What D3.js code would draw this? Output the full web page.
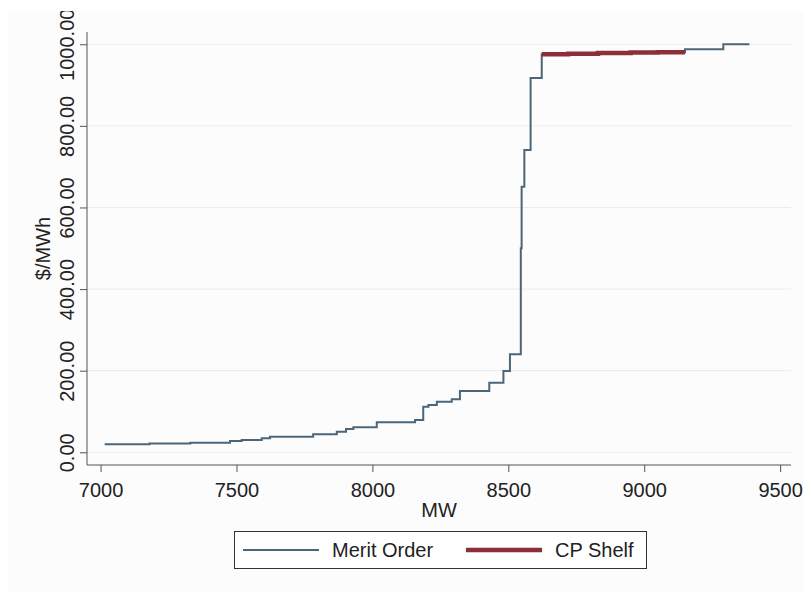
<!DOCTYPE html>
<html>
<head>
<meta charset="utf-8">
<script src="https://cdn.jsdelivr.net/npm/d3@7"></script>
<style>
  html, body { margin: 0; padding: 0; background: #ffffff; }
  svg { display: block; font-family: "Liberation Sans", Arial, sans-serif; }
</style>
</head>
<body>
<svg id="chart" width="804" height="592"></svg>
<script>
// Merit order supply curve (step function), MW vs $/MWh
const meritMW    = [7015, 7180, 7330, 7476, 7519, 7593, 7623, 7782, 7869, 7903, 7930, 8016, 8157, 8187, 8206, 8237, 8292, 8322, 8430, 8482, 8506, 8546, 8549, 8559, 8582, 8623, 8720, 8830, 8950, 9050, 9150, 9291, 9387];
const meritPrice = [20, 21.5, 23.5, 27.7, 30.1, 34.3, 38.2, 44.1, 50.5, 57.1, 61.3, 73.5, 79.2, 111.8, 116, 124, 130, 150, 170.6, 199.3, 240, 500, 651, 741, 917, 975.5, 977, 978.5, 979.5, 980.5, 988, 1000, 1000];

// Capacity-performance shelf segment
const shelfMW    = [8623, 8720, 8830, 8950, 9050, 9150];
const shelfPrice = [975.5, 977, 978.5, 979.5, 980.5, 980.5];

const xTicks = [7000, 7500, 8000, 8500, 9000, 9500];
const yTicks = [0, 200, 400, 600, 800, 1000];
const seriesNames = ["Merit Order", "CP Shelf"];

const blue = "#4b6679";
const maroon = "#8c2f39";
const ink = "#222222";
const axisInk = "#555555";

const svg = d3.select("#chart");

svg.append("defs").append("clipPath").attr("id", "panel")
  .append("rect").attr("x", 8).attr("y", 11).attr("width", 796).attr("height", 581);

const root = svg.append("g").attr("clip-path", "url(#panel)");
root.append("rect").attr("x", 8).attr("y", 11).attr("width", 796).attr("height", 581)
  .attr("fill", "#fcfcfc");

const plot = { left: 87, right: 791, top: 32, bottom: 465 };

const x = d3.scaleLinear().domain([6950, 9540]).range([plot.left, plot.right]);
const y = d3.scaleLinear().domain([-31.1, 1030]).range([plot.bottom, plot.top]);

// horizontal grid
root.append("g").selectAll("line").data(yTicks).join("line")
  .attr("x1", plot.left).attr("x2", plot.right)
  .attr("y1", d => y(d)).attr("y2", d => y(d))
  .attr("stroke", "#ebebeb").attr("stroke-width", 1);

// axes
const fmt = d3.format(".2f");
const yAxis = root.append("g").attr("transform", `translate(${plot.left},0)`)
  .call(d3.axisLeft(y).tickValues(yTicks).tickSize(7).tickPadding(14).tickFormat(fmt));
yAxis.select(".domain").attr("stroke", axisInk).attr("d", `M0,${plot.top}V${plot.bottom}`);
yAxis.selectAll(".tick line").attr("stroke", axisInk);
yAxis.selectAll(".tick text")
  .attr("font-size", 20).attr("fill", ink)
  .attr("text-anchor", "middle")
  .attr("x", null).attr("dy", null)
  .attr("transform", "translate(-13.5,0) rotate(-90)");

const xAxis = root.append("g").attr("transform", `translate(0,${plot.bottom})`)
  .call(d3.axisBottom(x).tickValues(xTicks).tickSize(7).tickPadding(10).tickFormat(d3.format("d")));
xAxis.select(".domain").attr("stroke", axisInk).attr("d", `M${plot.left},0H${plot.right}`);
xAxis.selectAll(".tick line").attr("stroke", axisInk);
xAxis.selectAll(".tick text").attr("font-size", 20).attr("fill", ink)
  .attr("dy", null).attr("y", 32.3);

// axis titles
root.append("text").attr("x", (plot.left + plot.right) / 2).attr("y", 517)
  .attr("text-anchor", "middle").attr("font-size", 20).attr("fill", ink).text("MW");
root.append("text")
  .attr("transform", `translate(49.5,${(plot.top + plot.bottom) / 2}) rotate(-90)`)
  .attr("text-anchor", "middle").attr("font-size", 20).attr("fill", ink).text("$/MWh");

// series
const step = d3.line().x(d => x(d[0])).y(d => y(d[1])).curve(d3.curveStepAfter);
const merit = d3.zip(meritMW, meritPrice);
const shelf = d3.zip(shelfMW, shelfPrice);

root.append("path").datum(merit).attr("d", step)
  .attr("fill", "none").attr("stroke", blue).attr("stroke-width", 2);
root.append("path").datum(shelf).attr("d", step)
  .attr("fill", "none").attr("stroke", maroon).attr("stroke-width", 4.5);

// legend
const lg = root.append("g");
lg.append("rect").attr("x", 234.5).attr("y", 531.5).attr("width", 412).attr("height", 37)
  .attr("fill", "#ffffff").attr("stroke", "#333333").attr("stroke-width", 1);
const items = [
  { name: seriesNames[0], color: blue, w: 2, x0: 243, tx: 332 },
  { name: seriesNames[1], color: maroon, w: 4.5, x0: 466, tx: 555 }
];
items.forEach(it => {
  lg.append("line").attr("x1", it.x0).attr("x2", it.x0 + 76).attr("y1", 550).attr("y2", 550)
    .attr("stroke", it.color).attr("stroke-width", it.w);
  lg.append("text").attr("x", it.tx).attr("y", 557).attr("font-size", 20).attr("fill", ink).text(it.name);
});
</script>
</body>
</html>
